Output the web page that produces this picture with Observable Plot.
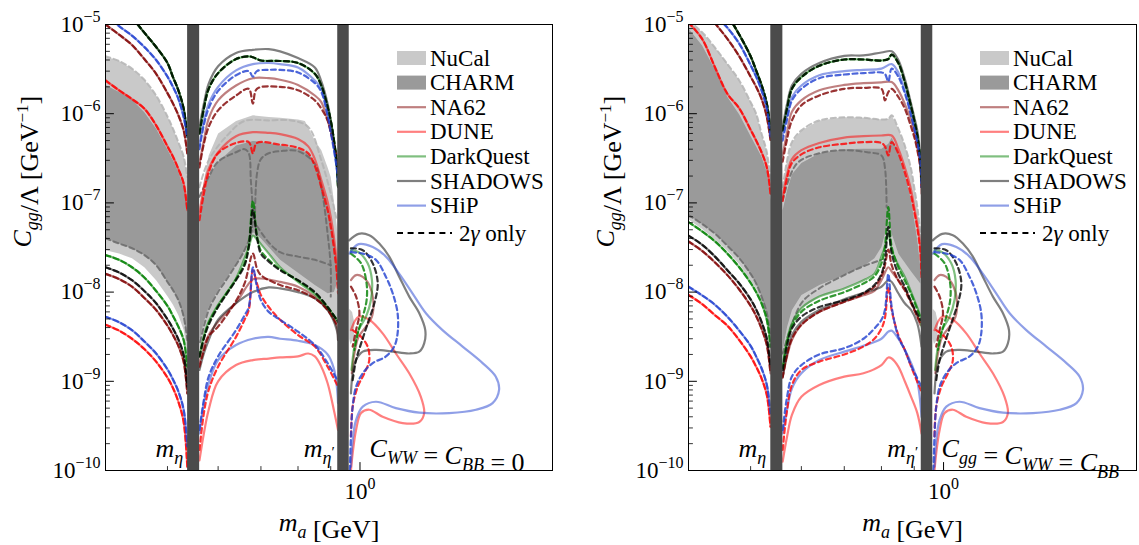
<!DOCTYPE html>
<html><head><meta charset="utf-8">
<script src="https://cdn.jsdelivr.net/npm/d3@7"></script>
<script src="https://cdn.jsdelivr.net/npm/@observablehq/plot@0.6"></script>
<style>
html,body{margin:0;padding:0;background:#fff;}
#fig{position:relative;width:1139px;height:545px;overflow:hidden;font-family:"Liberation Serif",serif;}
#fig > div{position:absolute;top:0;}
#fig svg{display:block;}
</style></head><body><div id="fig"></div>
<script>
// ---------------- axis / band definitions ----------------
const yMajor = [1e-10, 1e-9, 1e-8, 1e-7, 1e-6, 1e-5];
const yMinorK = [2, 3, 4, 5, 6, 7, 8, 9];
const xMinor = [0.4, 0.5, 0.6, 0.7, 0.8, 0.9, 2.0];
const xMajor = [1];
const mesonBand = [[0.5376, 0.5614], [0.923, 0.962]];   // m_eta and m_eta' bands (GeV)

// ---------------- region I (m_a < m_eta), common mass grid ----------------
const mI = [0.40, 0.42, 0.44, 0.46, 0.48, 0.50, 0.51, 0.52, 0.53, 0.537];

// left panel (C_WW = C_BB = 0)
const L1_nucalUp = [4.4e-6, 3.9e-6, 3.2e-6, 2.4e-6, 1.6e-6, 9.3e-7, 6.8e-7, 4.8e-7, 3.3e-7, 1.95e-7];
const L1_nucalLo = [2.95e-8, 2.7e-8, 2.4e-8, 1.9e-8, 1.36e-8, 9.0e-9, 7.2e-9, 5.5e-9, 3.75e-9, 2.05e-9];
const L1_charmUp = [2.1e-6, 1.75e-6, 1.43e-6, 1.04e-6, 6.8e-7, 3.95e-7, 3.0e-7, 2.2e-7, 1.5e-7, 9.0e-8];
const L1_charmLo = [4.0e-8, 3.5e-8, 3.1e-8, 2.6e-8, 2.0e-8, 1.3e-8, 1.05e-8, 8.1e-9, 5.3e-9, 2.9e-9];
const L1_na62Up = [1.0e-5, 7.7e-6, 5.9e-6, 4.1e-6, 2.8e-6, 1.7e-6, 1.3e-6, 9.6e-7, 6.5e-7, 3.6e-7];
const L1_na62Lo = [1.6e-8, 1.4e-8, 1.15e-8, 8.6e-9, 6.3e-9, 4.2e-9, 3.3e-9, 2.5e-9, 1.66e-9, 7.3e-10];
const L1_duneUp = [2.36e-6, 1.83e-6, 1.46e-6, 1.14e-6, 7.4e-7, 4.3e-7, 3.3e-7, 2.4e-7, 1.65e-7, 8.3e-8];
const L1_duneLo = [4.3e-9, 3.7e-9, 3.0e-9, 2.3e-9, 1.66e-9, 1.1e-9, 8.4e-10, 5.9e-10, 3.5e-10, 1.1e-10];
const L1_dqUp = [2.8e-5, 1.8e-5, 1.2e-5, 8.1e-6, 5.6e-6, 3.7e-6, 2.57e-6, 1.83e-6, 1.14e-6, 5.5e-7];
const L1_dqLo = [2.6e-8, 2.3e-8, 1.9e-8, 1.46e-8, 1.03e-8, 7.0e-9, 5.4e-9, 4.1e-9, 2.9e-9, 1.46e-9];
const L1_shadLo = [1.9e-8, 1.66e-8, 1.36e-8, 1.03e-8, 7.5e-9, 4.95e-9, 3.9e-9, 2.95e-9, 1.97e-9, 8.7e-10];
const L1_shipUp = [1.3e-5, 9.6e-6, 7.5e-6, 5.6e-6, 4.0e-6, 2.6e-6, 2.0e-6, 1.47e-6, 9.2e-7, 5.5e-7];
const L1_shipLo = [5.3e-9, 4.6e-9, 3.75e-9, 2.8e-9, 2.05e-9, 1.36e-9, 1.05e-9, 7.7e-10, 4.8e-10, 1.86e-10];

// right panel (C_gg = C_WW = C_BB)
const R1_nucalUp = [1.1e-5, 8.2e-6, 5.5e-6, 3.6e-6, 2.36e-6, 1.35e-6, 1.0e-6, 6.0e-7, 3.7e-7, 1.8e-7];
const R1_nucalLo = [6.5e-8, 5.1e-8, 3.9e-8, 2.9e-8, 2.05e-8, 1.35e-8, 1.08e-8, 8.0e-9, 5.2e-9, 2.6e-9];
const R1_charmUp = [9.0e-6, 5.8e-6, 3.1e-6, 1.54e-6, 9.8e-7, 5.6e-7, 4.3e-7, 3.3e-7, 2.2e-7, 1.07e-7];
const R1_charmLo = [7.3e-8, 5.8e-8, 4.5e-8, 3.3e-8, 2.4e-8, 1.6e-8, 1.25e-8, 8.9e-9, 5.8e-9, 3.2e-9];
const R1_na62Up = [2.5e-5, 1.56e-5, 1.03e-5, 6.9e-6, 4.4e-6, 2.6e-6, 2.0e-6, 1.47e-6, 9.2e-7, 5.1e-7];
const R1_na62Lo = [3.7e-8, 2.9e-8, 2.15e-8, 1.55e-8, 1.07e-8, 7.0e-9, 5.4e-9, 3.9e-9, 2.55e-9, 1.23e-9];
const R1_duneUp = [1.05e-5, 6.9e-6, 3.3e-6, 1.67e-6, 1.15e-6, 6.6e-7, 5.0e-7, 3.7e-7, 2.5e-7, 1.27e-7];
const R1_duneLo = [9.3e-9, 7.35e-9, 5.5e-9, 4.2e-9, 2.9e-9, 1.9e-9, 1.46e-9, 1.08e-9, 7.0e-10, 3.1e-10];
const R1_dqUp = [5.0e-5, 3.0e-5, 1.9e-5, 1.27e-5, 7.7e-6, 4.4e-6, 3.06e-6, 2.1e-6, 1.29e-6, 6.5e-7];
const R1_dqLo = [6.1e-8, 4.8e-8, 3.7e-8, 2.7e-8, 1.9e-8, 1.27e-8, 1.0e-8, 7.5e-9, 4.9e-9, 2.45e-9];
const R1_shadLo = [4.3e-8, 3.4e-8, 2.5e-8, 1.76e-8, 1.25e-8, 8.3e-9, 6.4e-9, 4.65e-9, 3.0e-9, 1.46e-9];
const R1_shipUp = [3.5e-5, 2.2e-5, 1.3e-5, 9.2e-6, 6.1e-6, 3.5e-6, 2.6e-6, 1.83e-6, 1.14e-6, 5.5e-7];
const R1_shipLo = [1.15e-8, 9.2e-9, 7.2e-9, 5.3e-9, 3.7e-9, 2.5e-9, 1.9e-9, 1.4e-9, 9.1e-10, 4.4e-10];

// ---------------- region II (m_eta < m_a < m_eta'), [m, C] pairs ----------------
// left panel
const L2_nucalUp = [[0.561,9.0e-8],[0.57,1.8e-7],[0.58,3.4e-7],[0.60,6.0e-7],[0.64,8.3e-7],[0.68,9.6e-7],[0.72,9.2e-7],[0.75,9.0e-7],[0.80,8.6e-7],[0.82,8.3e-7],[0.85,5.0e-7],[0.87,3.9e-7],[0.89,2.5e-7],[0.90,1.95e-7],[0.91,1.07e-7],[0.92,5.4e-8],[0.924,2.7e-8]];
const L2_nucalD = [[0.561,1.5e-7],[0.58,3.0e-7],[0.62,5.7e-7],[0.66,8.3e-7],[0.72,8.4e-7],[0.78,8.4e-7],[0.83,7.1e-7],[0.87,3.0e-7],[0.90,1.27e-7],[0.92,6.4e-8]];
const L2_charmUp = [[0.561,6.5e-8],[0.57,1.27e-7],[0.58,1.95e-7],[0.60,2.9e-7],[0.64,4.4e-7],[0.68,4.95e-7],[0.72,4.7e-7],[0.75,4.4e-7],[0.80,4.05e-7],[0.83,3.6e-7],[0.85,2.75e-7],[0.87,1.8e-7],[0.89,9.4e-8],[0.90,6.4e-8],[0.91,4.2e-8],[0.92,2.3e-8]];
const L2_charmLo = [[0.561,2.9e-9],[0.57,4.65e-9],[0.58,6.8e-9],[0.60,1.05e-8],[0.62,1.48e-8],[0.64,2.0e-8],[0.66,2.95e-8],[0.67,3.7e-8],[0.68,4.7e-8],[0.69,4.4e-8],[0.70,4.0e-8],[0.72,3.2e-8],[0.75,2.3e-8],[0.80,1.65e-8],[0.85,1.2e-8],[0.89,9.7e-9],[0.91,1.0e-8],[0.92,1.25e-8]];
const L2_charmD1 = [[0.561,1.17e-7],[0.58,1.95e-7],[0.60,2.9e-7],[0.64,3.7e-7],[0.66,4.0e-7],[0.67,3.6e-7],[0.675,1.8e-7],[0.68,6.4e-8],[0.675,4.5e-8],[0.66,2.95e-8],[0.62,1.42e-8],[0.60,1.0e-8],[0.58,6.3e-9],[0.561,2.55e-9]];
const L2_charmD2 = [[0.685,6.4e-8],[0.69,2.1e-7],[0.70,3.1e-7],[0.72,3.6e-7],[0.75,3.8e-7],[0.80,3.8e-7],[0.85,2.75e-7],[0.87,1.5e-7],[0.89,4.5e-8],[0.90,1.9e-8],[0.90,8.9e-9]];
const L2_charmD3 = [[0.69,5.5e-8],[0.72,3.6e-8],[0.75,2.8e-8],[0.80,2.5e-8],[0.85,2.3e-8],[0.90,2.0e-8]];
const L2_shadUp = [[0.561,7.1e-7],[0.57,1.29e-6],[0.58,2.17e-6],[0.60,3.4e-6],[0.64,4.8e-6],[0.68,5.2e-6],[0.72,5.3e-6],[0.75,5.0e-6],[0.80,4.2e-6],[0.85,3.3e-6],[0.87,2.3e-6],[0.89,1.29e-6],[0.90,8.4e-7],[0.91,5.0e-7],[0.92,2.5e-7],[0.924,1.5e-7]];
const L2_dqUp = [[0.561,6.0e-7],[0.57,1.14e-6],[0.58,1.9e-6],[0.60,2.85e-6],[0.64,4.1e-6],[0.67,4.4e-6],[0.68,4.3e-6],[0.70,3.95e-6],[0.75,3.9e-6],[0.80,3.7e-6],[0.85,2.8e-6],[0.87,2.07e-6],[0.89,1.19e-6],[0.90,8.4e-7],[0.91,5.2e-7],[0.92,2.75e-7],[0.924,1.5e-7]];
const L2_shipUp = [[0.561,4.4e-7],[0.57,8.4e-7],[0.58,1.29e-6],[0.60,2.0e-6],[0.64,3.06e-6],[0.68,3.6e-6],[0.72,3.7e-6],[0.75,3.6e-6],[0.80,3.3e-6],[0.85,2.36e-6],[0.87,1.9e-6],[0.89,1.0e-6],[0.90,6.5e-7],[0.91,4.2e-7],[0.92,2.5e-7],[0.924,1.8e-7]];
const L2_shipUpD = [[0.561,4.0e-7],[0.57,7.5e-7],[0.58,1.15e-6],[0.60,1.8e-6],[0.64,2.7e-6],[0.67,3.0e-6],[0.68,2.6e-6],[0.69,3.0e-6],[0.72,3.1e-6],[0.75,3.1e-6],[0.80,2.9e-6],[0.85,2.2e-6],[0.87,1.75e-6],[0.89,9.5e-7],[0.90,6.2e-7],[0.91,4.0e-7],[0.92,2.4e-7],[0.924,1.7e-7]];
const L2_na62Up = [[0.561,2.75e-7],[0.57,5.0e-7],[0.58,8.8e-7],[0.60,1.41e-6],[0.64,2.07e-6],[0.68,2.5e-6],[0.72,2.5e-6],[0.75,2.4e-6],[0.80,2.1e-6],[0.85,1.6e-6],[0.87,1.35e-6],[0.89,8.4e-7],[0.90,6.5e-7],[0.91,4.6e-7],[0.92,2.75e-7],[0.924,1.95e-7]];
const L2_na62UpD = [[0.561,2.5e-7],[0.57,4.6e-7],[0.58,7.1e-7],[0.60,1.09e-6],[0.64,1.6e-6],[0.67,1.9e-6],[0.68,1.3e-6],[0.69,1.9e-6],[0.75,2.0e-6],[0.80,1.83e-6],[0.85,1.41e-6],[0.87,1.14e-6],[0.89,8.4e-7],[0.90,6.2e-7],[0.92,3.3e-7],[0.924,2.3e-7]];
const L2_duneUp = [[0.561,7.6e-8],[0.57,1.5e-7],[0.58,2.4e-7],[0.60,3.7e-7],[0.64,5.6e-7],[0.68,6.2e-7],[0.72,6.1e-7],[0.75,5.9e-7],[0.80,5.2e-7],[0.83,4.3e-7],[0.85,3.1e-7],[0.87,1.8e-7],[0.89,1.03e-7],[0.90,7.0e-8],[0.91,4.2e-8],[0.92,2.1e-8],[0.924,1.15e-8]];
const L2_duneUpD = [[0.561,6.4e-8],[0.57,1.27e-7],[0.58,2.2e-7],[0.60,3.6e-7],[0.64,4.7e-7],[0.67,4.8e-7],[0.68,3.6e-7],[0.69,4.7e-7],[0.75,4.5e-7],[0.80,4.15e-7],[0.83,3.6e-7],[0.85,2.6e-7],[0.87,1.5e-7],[0.89,8.3e-8],[0.90,5.4e-8],[0.91,3.2e-8],[0.92,1.6e-8],[0.924,9.7e-9]];
const L2_dqLo = [[0.561,1.9e-9],[0.57,3.2e-9],[0.58,4.65e-9],[0.60,7.2e-9],[0.62,1.0e-8],[0.64,1.42e-8],[0.66,2.4e-8],[0.67,3.2e-8],[0.68,4.3e-8],[0.69,3.9e-8],[0.70,3.45e-8],[0.72,2.7e-8],[0.75,1.9e-8],[0.80,1.3e-8],[0.85,9.4e-9],[0.89,6.7e-9],[0.924,4.65e-9]];
const L2_dqLoD = [[0.561,1.9e-9],[0.57,3.1e-9],[0.58,4.5e-9],[0.60,7.0e-9],[0.62,1.0e-8],[0.64,1.4e-8],[0.66,2.1e-8],[0.67,3.4e-8],[0.68,1.05e-7],[0.69,4.3e-8],[0.70,2.9e-8],[0.72,2.3e-8],[0.75,1.8e-8],[0.80,1.35e-8],[0.85,9.8e-9],[0.89,6.8e-9],[0.924,4.7e-9]];
const L2_shadLo = [[0.561,1.34e-9],[0.57,2.05e-9],[0.58,2.9e-9],[0.60,4.9e-9],[0.64,7.5e-9],[0.68,1.0e-8],[0.72,1.13e-8],[0.75,1.1e-8],[0.80,1.0e-8],[0.85,8.5e-9],[0.89,6.3e-9],[0.92,3.75e-9],[0.924,2.9e-9]];
const L2_shadLoD = [[0.561,1.9e-9],[0.57,3.0e-9],[0.58,4.3e-9],[0.60,6.8e-9],[0.62,9.7e-9],[0.64,1.36e-8],[0.66,2.0e-8],[0.67,3.2e-8],[0.68,8.3e-8],[0.69,4.15e-8],[0.70,2.7e-8],[0.72,2.2e-8],[0.75,1.76e-8],[0.80,1.36e-8],[0.85,1.0e-8],[0.89,6.8e-9],[0.924,4.65e-9]];
const L2_na62Lo = [[0.561,1.6e-9],[0.57,2.45e-9],[0.58,3.3e-9],[0.60,4.65e-9],[0.64,7.6e-9],[0.68,1.39e-8],[0.70,1.42e-8],[0.75,1.3e-8],[0.80,1.15e-8],[0.85,8.9e-9],[0.89,6.4e-9],[0.92,4.1e-9],[0.924,2.9e-9]];
const L2_na62LoD = [[0.561,1.46e-9],[0.57,2.2e-9],[0.58,3.2e-9],[0.60,4.1e-9],[0.64,8.0e-9],[0.66,1.25e-8],[0.68,2.7e-8],[0.69,1.84e-8],[0.70,1.55e-8],[0.75,1.2e-8],[0.80,1.05e-8],[0.85,8.5e-9],[0.89,6.3e-9],[0.92,4.3e-9]];
const L2_shipLo = [[0.561,2.6e-10],[0.57,5.7e-10],[0.58,9.5e-10],[0.60,1.73e-9],[0.64,2.55e-9],[0.68,3.0e-9],[0.72,3.15e-9],[0.75,3.0e-9],[0.80,2.85e-9],[0.85,2.55e-9],[0.89,2.0e-9],[0.91,1.4e-9],[0.92,8.7e-10],[0.924,5.7e-10]];
const L2_shipLoD = [[0.561,2.85e-10],[0.57,6.2e-10],[0.58,1.13e-9],[0.60,1.9e-9],[0.64,3.75e-9],[0.66,5.5e-9],[0.67,6.8e-9],[0.68,1.9e-8],[0.69,1.15e-8],[0.70,8.1e-9],[0.72,6.0e-9],[0.75,4.9e-9],[0.80,3.6e-9],[0.85,2.55e-9],[0.89,1.6e-9],[0.924,1.0e-9]];
const L2_duneLo = [[0.561,1.3e-10],[0.57,2.6e-10],[0.58,4.8e-10],[0.60,1.0e-9],[0.64,1.52e-9],[0.68,1.73e-9],[0.72,1.8e-9],[0.75,1.85e-9],[0.80,1.9e-9],[0.83,2.05e-9],[0.85,1.9e-9],[0.87,1.46e-9],[0.89,9.5e-10],[0.91,4.8e-10],[0.924,2.85e-10]];
const L2_duneLoD = [[0.561,1.7e-10],[0.57,4.4e-10],[0.58,8.0e-10],[0.60,1.46e-9],[0.64,3.15e-9],[0.66,4.9e-9],[0.67,6.3e-9],[0.68,1.76e-8],[0.69,1.25e-8],[0.70,9.25e-9],[0.72,6.8e-9],[0.75,4.9e-9],[0.80,3.3e-9],[0.85,2.45e-9],[0.89,1.46e-9],[0.924,8.7e-10]];

// right panel
const R2_nucalUp = [[0.561,1.5e-7],[0.57,3.0e-7],[0.58,4.8e-7],[0.60,6.5e-7],[0.64,8.4e-7],[0.70,9.1e-7],[0.75,9.0e-7],[0.80,8.6e-7],[0.82,8.8e-7],[0.83,9.6e-7],[0.85,6.8e-7],[0.87,4.4e-7],[0.89,2.4e-7],[0.90,1.5e-7],[0.91,9.0e-8],[0.92,4.5e-8],[0.924,2.3e-8]];
const R2_charmUp = [[0.561,8.3e-8],[0.57,1.39e-7],[0.58,2.1e-7],[0.60,2.8e-7],[0.64,3.6e-7],[0.70,4.0e-7],[0.75,4.05e-7],[0.80,4.05e-7],[0.82,4.6e-7],[0.83,5.4e-7],[0.85,3.7e-7],[0.87,2.1e-7],[0.89,1.07e-7],[0.90,6.4e-8],[0.91,3.8e-8],[0.92,1.9e-8]];
const R2_charmLo = [[0.561,2.25e-9],[0.57,4.1e-9],[0.58,6.3e-9],[0.60,9.25e-9],[0.64,1.2e-8],[0.70,1.55e-8],[0.75,1.95e-8],[0.78,2.4e-8],[0.80,3.2e-8],[0.81,4.5e-8],[0.82,6.7e-8],[0.83,4.5e-8],[0.85,2.7e-8],[0.89,1.7e-8],[0.92,1.25e-8]];
const R2_charmD1 = [[0.561,1.07e-7],[0.59,2.75e-7],[0.64,3.6e-7],[0.70,3.9e-7],[0.76,3.7e-7],[0.80,3.4e-7],[0.81,2.5e-7],[0.815,9.0e-8]];
const R2_charmD2 = [[0.561,2.05e-9],[0.60,7.5e-9],[0.64,1.1e-8],[0.70,1.55e-8],[0.75,1.95e-8],[0.80,2.3e-8]];
const R2_shadUp = [[0.561,7.1e-7],[0.57,1.29e-6],[0.58,2.07e-6],[0.60,2.8e-6],[0.64,3.7e-6],[0.70,4.45e-6],[0.75,4.5e-6],[0.80,4.85e-6],[0.83,5.0e-6],[0.85,4.0e-6],[0.87,2.46e-6],[0.89,1.29e-6],[0.90,9.2e-7],[0.91,6.5e-7],[0.92,3.3e-7],[0.924,1.8e-7]];
const R2_dqUp = [[0.561,6.5e-7],[0.57,1.14e-6],[0.58,1.9e-6],[0.60,2.57e-6],[0.64,3.45e-6],[0.70,4.05e-6],[0.75,4.05e-6],[0.80,3.95e-6],[0.82,4.1e-6],[0.83,4.6e-6],[0.85,3.7e-6],[0.87,2.26e-6],[0.89,1.19e-6],[0.90,8.4e-7],[0.91,5.7e-7],[0.92,3.0e-7],[0.924,1.65e-7]];
const R2_shipUp = [[0.561,5.7e-7],[0.57,9.6e-7],[0.58,1.54e-6],[0.60,2.07e-6],[0.64,2.7e-6],[0.70,3.0e-6],[0.75,3.1e-6],[0.80,3.2e-6],[0.83,3.6e-6],[0.85,2.9e-6],[0.87,1.83e-6],[0.89,1.0e-6],[0.90,7.1e-7],[0.91,5.0e-7],[0.92,3.0e-7],[0.924,1.5e-7]];
const R2_shipUpD = [[0.561,5.0e-7],[0.57,8.6e-7],[0.58,1.4e-6],[0.60,1.9e-6],[0.64,2.5e-6],[0.70,2.75e-6],[0.75,2.85e-6],[0.80,2.9e-6],[0.81,2.8e-6],[0.82,2.3e-6],[0.83,3.2e-6],[0.85,2.6e-6],[0.87,1.7e-6],[0.89,9.5e-7],[0.90,6.8e-7],[0.91,4.8e-7],[0.92,2.9e-7],[0.924,1.5e-7]];
const R2_na62Up = [[0.561,3.4e-7],[0.57,6.2e-7],[0.58,1.05e-6],[0.60,1.41e-6],[0.64,1.83e-6],[0.70,2.1e-6],[0.75,2.2e-6],[0.80,2.25e-6],[0.83,2.26e-6],[0.85,1.83e-6],[0.87,1.29e-6],[0.89,8.4e-7],[0.90,6.2e-7],[0.91,4.2e-7],[0.92,2.5e-7],[0.924,1.27e-7]];
const R2_na62UpD = [[0.561,2.9e-7],[0.57,5.2e-7],[0.58,8.4e-7],[0.60,1.24e-6],[0.64,1.6e-6],[0.70,1.9e-6],[0.75,1.95e-6],[0.80,1.9e-6],[0.81,1.41e-6],[0.82,1.75e-6],[0.83,1.9e-6],[0.85,1.54e-6],[0.87,1.14e-6],[0.89,7.1e-7],[0.90,5.5e-7],[0.91,3.9e-7],[0.92,2.5e-7],[0.924,1.5e-7]];
const R2_duneUp = [[0.561,1.17e-7],[0.57,2.1e-7],[0.58,3.1e-7],[0.60,3.9e-7],[0.64,4.7e-7],[0.70,5.4e-7],[0.75,5.6e-7],[0.80,5.7e-7],[0.83,5.7e-7],[0.85,4.05e-7],[0.87,2.5e-7],[0.89,1.39e-7],[0.90,9.0e-8],[0.91,5.9e-8],[0.92,3.2e-8],[0.924,1.6e-8]];
const R2_duneUpD = [[0.561,1.05e-7],[0.57,1.9e-7],[0.58,2.8e-7],[0.60,3.5e-7],[0.64,4.2e-7],[0.70,4.6e-7],[0.75,4.8e-7],[0.80,4.7e-7],[0.81,4.3e-7],[0.82,3.4e-7],[0.83,4.8e-7],[0.85,3.6e-7],[0.87,2.2e-7],[0.89,1.2e-7],[0.90,8.0e-8],[0.91,5.2e-8],[0.92,2.8e-8],[0.924,1.4e-8]];
const R2_dqLo = [[0.561,1.46e-9],[0.57,2.9e-9],[0.58,4.45e-9],[0.60,6.6e-9],[0.64,8.9e-9],[0.70,1.1e-8],[0.75,1.36e-8],[0.78,1.6e-8],[0.80,2.5e-8],[0.81,3.2e-8],[0.82,4.5e-8],[0.83,2.95e-8],[0.85,2.0e-8],[0.87,1.48e-8],[0.89,1.0e-8],[0.92,5.3e-9],[0.924,4.1e-9]];
const R2_dqLoD = [[0.561,1.4e-9],[0.57,2.7e-9],[0.58,4.1e-9],[0.60,6.0e-9],[0.64,8.0e-9],[0.70,1.0e-8],[0.75,1.25e-8],[0.78,1.5e-8],[0.80,2.1e-8],[0.81,3.2e-8],[0.82,9.0e-8],[0.83,3.2e-8],[0.85,1.9e-8],[0.87,1.35e-8],[0.89,9.5e-9],[0.92,5.2e-9]];
const R2_shadLo = [[0.561,1.13e-9],[0.57,2.05e-9],[0.58,3.3e-9],[0.60,4.65e-9],[0.64,6.3e-9],[0.70,8.3e-9],[0.75,9.8e-9],[0.80,1.15e-8],[0.82,1.36e-8],[0.83,1.3e-8],[0.85,9.7e-9],[0.87,7.5e-9],[0.89,6.3e-9],[0.91,4.45e-9],[0.924,2.45e-9]];
const R2_shadLoD = [[0.561,1.34e-9],[0.57,2.55e-9],[0.58,3.9e-9],[0.60,5.3e-9],[0.64,6.8e-9],[0.70,8.1e-9],[0.75,9.8e-9],[0.78,1.2e-8],[0.80,1.6e-8],[0.81,2.3e-8],[0.82,5.4e-8],[0.83,2.7e-8],[0.85,1.6e-8],[0.87,1.15e-8],[0.89,7.8e-9],[0.92,4.9e-9]];
const R2_na62Lo = [[0.561,1.13e-9],[0.57,1.9e-9],[0.58,2.9e-9],[0.60,4.3e-9],[0.64,6.0e-9],[0.70,7.8e-9],[0.75,9.2e-9],[0.78,1.03e-8],[0.80,1.36e-8],[0.82,1.9e-8],[0.83,1.7e-8],[0.85,1.36e-8],[0.87,1.1e-8],[0.89,7.8e-9],[0.92,4.3e-9]];
const R2_na62LoD = [[0.561,1.1e-9],[0.57,2.0e-9],[0.58,3.0e-9],[0.60,4.3e-9],[0.64,6.0e-9],[0.70,7.8e-9],[0.75,9.5e-9],[0.78,1.15e-8],[0.80,1.5e-8],[0.81,2.0e-8],[0.82,3.0e-8],[0.83,2.0e-8],[0.85,1.35e-8],[0.87,1.05e-8],[0.89,7.5e-9],[0.92,4.5e-9]];
const R2_shipLo = [[0.561,2.6e-10],[0.57,4.8e-10],[0.58,8.3e-10],[0.60,1.23e-9],[0.64,1.73e-9],[0.70,2.15e-9],[0.75,2.5e-9],[0.80,3.0e-9],[0.82,3.6e-9],[0.83,3.7e-9],[0.85,3.0e-9],[0.87,2.25e-9],[0.89,1.6e-9],[0.91,1.0e-9],[0.924,4.0e-10]];
const R2_shipLoD = [[0.561,2.85e-10],[0.57,6.7e-10],[0.58,1.13e-9],[0.60,1.52e-9],[0.64,2.0e-9],[0.70,2.35e-9],[0.75,3.0e-9],[0.78,3.9e-9],[0.80,4.9e-9],[0.81,6.3e-9],[0.82,1.6e-8],[0.83,6.8e-9],[0.85,3.15e-9],[0.87,2.25e-9],[0.89,1.5e-9],[0.924,8.7e-10]];
const R2_duneLo = [[0.561,1.26e-10],[0.57,2.4e-10],[0.58,4.2e-10],[0.60,6.7e-10],[0.64,9.1e-10],[0.70,1.13e-9],[0.75,1.23e-9],[0.80,1.52e-9],[0.82,1.85e-9],[0.83,1.8e-9],[0.85,1.46e-9],[0.87,1.0e-9],[0.89,6.7e-10],[0.91,4.4e-10],[0.924,2.6e-10]];
const R2_duneLoD = [[0.561,1.7e-10],[0.57,4.8e-10],[0.58,9.1e-10],[0.60,1.34e-9],[0.64,1.66e-9],[0.70,2.0e-9],[0.75,2.45e-9],[0.78,3.0e-9],[0.80,3.9e-9],[0.81,5.1e-9],[0.82,1.15e-8],[0.83,6.3e-9],[0.85,3.3e-9],[0.87,2.25e-9],[0.89,1.46e-9],[0.924,7.6e-10]];

// ---------------- region III (m_a > m_eta'), same in both panels ----------------
const III_nucalBlob = [[0.962,6.5e-9],[0.972,6.0e-9],[0.98,4.5e-9],[0.978,3.0e-9],[0.966,2.6e-9],[0.962,3.0e-9]];
const III_shadLoop = [[0.962,3.8e-8],[0.995,4.5e-8],[1.034,4.35e-8],[1.072,3.5e-8],[1.111,2.5e-8],[1.152,1.48e-8],[1.194,8.9e-9],[1.238,5.8e-9],[1.265,3.75e-9],[1.26,2.66e-9],[1.238,2.15e-9],[1.194,2.05e-9],[1.125,2.15e-9],[1.059,2.25e-9],[1.010,2.15e-9],[0.986,1.73e-9],[0.974,1.23e-9],[0.968,7.3e-10]];
const III_shadD = [[0.968,3.1e-8],[1.010,2.95e-8],[1.047,2.1e-8],[1.066,1.25e-8],[1.053,7.5e-9],[1.028,4.45e-9],[1.004,2.66e-9],[0.986,1.73e-9],[0.974,1.03e-9]];
const III_shipLoop = [[0.962,2.7e-8],[0.995,3.45e-8],[1.047,3.2e-8],[1.098,2.5e-8],[1.152,1.6e-8],[1.208,9.7e-9],[1.268,5.8e-9],[1.346,3.75e-9],[1.447,2.45e-9],[1.555,1.6e-9],[1.630,1.13e-9],[1.650,8.0e-10],[1.612,5.7e-10],[1.518,4.8e-10],[1.379,4.4e-10],[1.238,4.45e-10],[1.138,5.0e-10],[1.059,5.9e-10],[1.010,5.2e-10],[0.986,3.7e-10],[0.974,2.2e-10],[0.968,1.1e-10]];
const III_shipD = [[0.968,2.8e-8],[1.010,2.7e-8],[1.059,2.3e-8],[1.098,1.48e-8],[1.125,9.7e-9],[1.145,5.8e-9],[1.145,3.45e-9],[1.131,2.45e-9],[1.098,1.9e-9],[1.047,1.6e-9],[1.010,1.23e-9],[0.986,8.7e-10],[0.974,5.2e-10],[0.968,2.4e-10],[0.964,1.0e-10]];
const III_dq = [[0.968,2.95e-8],[0.995,2.8e-8],[1.028,2.1e-8],[1.044,1.36e-8],[1.040,8.1e-9],[1.022,5.3e-9],[0.995,3.75e-9],[0.980,2.45e-9],[0.970,1.34e-9]];
const III_dqD = [[0.968,2.7e-8],[1.004,2.1e-8],[1.024,1.25e-8],[1.024,8.1e-9],[1.010,5.3e-9],[0.992,3.45e-9],[0.980,2.25e-9]];
const III_na62 = [[0.968,1.36e-8],[0.986,1.55e-8],[1.010,1.48e-8],[1.034,1.2e-8],[1.049,8.1e-9],[1.044,5.3e-9],[1.022,4.1e-9],[0.995,3.15e-9],[0.980,2.05e-9],[0.971,1.23e-9]];
const III_na62D = [[0.968,1.15e-8],[0.986,8.9e-9],[0.998,5.8e-9],[0.986,3.75e-9],[0.974,2.45e-9]];
const III_dune = [[0.968,3.75e-9],[0.995,5.3e-9],[1.034,4.9e-9],[1.085,3.45e-9],[1.138,2.05e-9],[1.194,1.23e-9],[1.245,6.7e-10],[1.260,4.4e-10],[1.238,3.5e-10],[1.166,3.4e-10],[1.085,4.0e-10],[1.034,4.8e-10],[1.004,4.4e-10],[0.986,2.85e-10],[0.974,1.56e-10],[0.968,1.0e-10]];
const III_duneD = [[0.974,3.75e-9],[1.004,3.15e-9],[1.028,2.45e-9],[1.034,1.73e-9],[1.016,1.23e-9],[0.992,8.7e-10],[0.974,5.2e-10],[0.968,2.4e-10]];

// ---------------- legend & annotations ----------------
const legendRows = [["NuCal","rect"],["CHARM","rect"],["NA62","line"],["DUNE","line"],["DarkQuest","line"],["SHADOWS","line"],["SHiP","line"]];
const noteLeft = [[0.529,1.75e-10,"meta","end"],[0.913,1.75e-10,"metap","end"],[1.035,1.75e-10,"noteL","start"]];
const noteRight = [[0.529,1.75e-10,"meta","end"],[0.913,1.75e-10,"metap","end"],[0.993,1.75e-10,"noteR","start"]];

// ---------------- styles ----------------
const FONT = "Liberation Serif";
const expColor = {NA62:"#800000", DUNE:"#ff0000", DarkQuest:"#008000", SHADOWS:"#000000", SHiP:"#1f3fcf"};
const fillColor = {NuCal:"#c9c9c9", CHARM:"#9a9a9a"};
const SOLID_OP = 0.5, DASH_OP = 0.8;

// ---------------- helpers ----------------
const zip = (ms, cs) => ms.map((m, i) => [m, cs[i]]);
const poly = (up, lo) => up.concat(lo.slice().reverse());
const pair = (exp, s, d) => [[exp, "s", s], [exp, "d", d || s]];

const region3 = [
  ...pair("NA62", III_na62, III_na62D), ...pair("DUNE", III_dune, III_duneD),
  ...pair("DarkQuest", III_dq, III_dqD), ...pair("SHADOWS", III_shadLoop, III_shadD),
  ...pair("SHiP", III_shipLoop, III_shipD)
];

const leftCfg = {
  left: 0, width: 570, marginLeft: 105, marginRight: 18, notes: noteLeft,
  fills: [
    ["NuCal", poly(zip(mI, L1_nucalUp), zip(mI, L1_nucalLo))],
    ["NuCal", poly(L2_nucalUp, L2_dqLo)],
    ["NuCal", III_nucalBlob],
    ["CHARM", poly(zip(mI, L1_charmUp), zip(mI, L1_charmLo))],
    ["CHARM", poly(L2_charmUp, L2_charmLo)]
  ],
  grays: [
    ["NuCal", zip(mI, L1_nucalUp)], ["NuCal", L2_nucalD],
    ["CHARM", zip(mI, L1_charmLo)], ["CHARM", L2_charmD1], ["CHARM", L2_charmD2], ["CHARM", L2_charmD3]
  ],
  lines: [
    ...pair("NA62", zip(mI, L1_na62Up)), ...pair("NA62", zip(mI, L1_na62Lo)),
    ...pair("DUNE", zip(mI, L1_duneUp)), ...pair("DUNE", zip(mI, L1_duneLo)),
    ...pair("DarkQuest", zip(mI, L1_dqUp)), ...pair("DarkQuest", zip(mI, L1_dqLo)),
    ...pair("SHADOWS", zip(mI, L1_dqUp)), ...pair("SHADOWS", zip(mI, L1_shadLo)),
    ...pair("SHiP", zip(mI, L1_shipUp)), ...pair("SHiP", zip(mI, L1_shipLo)),
    ...pair("NA62", L2_na62Up, L2_na62UpD), ...pair("NA62", L2_na62Lo, L2_na62LoD),
    ...pair("DUNE", L2_duneUp, L2_duneUpD), ...pair("DUNE", L2_duneLo, L2_duneLoD),
    ...pair("DarkQuest", L2_dqUp), ...pair("DarkQuest", L2_dqLo, L2_dqLoD),
    ...pair("SHADOWS", L2_shadUp, L2_dqUp), ...pair("SHADOWS", L2_shadLo, L2_shadLoD),
    ...pair("SHiP", L2_shipUp, L2_shipUpD), ...pair("SHiP", L2_shipLo, L2_shipLoD),
    ...region3
  ]
};

const rightCfg = {
  left: 570, width: 569, marginLeft: 118, marginRight: 3, notes: noteRight,
  fills: [
    ["NuCal", poly(zip(mI, R1_nucalUp), zip(mI, R1_nucalLo))],
    ["NuCal", poly(R2_nucalUp, R2_dqLo)],
    ["NuCal", III_nucalBlob],
    ["CHARM", poly(zip(mI, R1_charmUp), zip(mI, R1_charmLo))],
    ["CHARM", poly(R2_charmUp, R2_charmLo)]
  ],
  grays: [
    ["NuCal", zip(mI, R1_nucalUp)], ["NuCal", R2_nucalUp],
    ["CHARM", zip(mI, R1_charmLo)], ["CHARM", R2_charmD1], ["CHARM", R2_charmD2]
  ],
  lines: [
    ...pair("NA62", zip(mI, R1_na62Up)), ...pair("NA62", zip(mI, R1_na62Lo)),
    ...pair("DUNE", zip(mI, R1_duneUp)), ...pair("DUNE", zip(mI, R1_duneLo)),
    ...pair("DarkQuest", zip(mI, R1_dqUp)), ...pair("DarkQuest", zip(mI, R1_dqLo)),
    ...pair("SHADOWS", zip(mI, R1_dqUp)), ...pair("SHADOWS", zip(mI, R1_shadLo)),
    ...pair("SHiP", zip(mI, R1_shipUp)), ...pair("SHiP", zip(mI, R1_shipLo)),
    ...pair("NA62", R2_na62Up, R2_na62UpD), ...pair("NA62", R2_na62Lo, R2_na62LoD),
    ...pair("DUNE", R2_duneUp, R2_duneUpD), ...pair("DUNE", R2_duneLo, R2_duneLoD),
    ...pair("DarkQuest", R2_dqUp), ...pair("DarkQuest", R2_dqLo, R2_dqLoD),
    ...pair("SHADOWS", R2_shadUp, R2_dqUp), ...pair("SHADOWS", R2_shadLo, R2_shadLoD),
    ...pair("SHiP", R2_shipUp, R2_shipUpD), ...pair("SHiP", R2_shipLo, R2_shipLoD),
    ...region3
  ]
};

// rich-text markup for labels (super/subscripts, italics)
const it = s => `<tspan font-style="italic">${s}</tspan>`;
const sub = (s, fs) => `<tspan dy="7" font-size="${fs}" font-style="italic">${s}</tspan><tspan dy="-7"></tspan>`;
function markup(key) {
  if (key.startsWith("pow:")) {
    const e = +key.slice(4);
    return `10<tspan dy="-10" font-size="16">${e < 0 ? "\u2212" + (-e) : e}</tspan>`;
  }
  switch (key) {
    case "ylab": return `${it("C")}${sub("gg", 18)}/Λ [GeV<tspan dy="-10" font-size="17">\u22121</tspan><tspan dy="10">]</tspan>`;
    case "xlab": return `${it("m")}${sub("a", 18)} [GeV]`;
    case "meta": return `${it("m")}${sub("η", 18)}`;
    case "metap": return `${it("m")}<tspan dy="7" font-size="18" font-style="italic">η</tspan><tspan font-size="15" dy="-7">′</tspan>`;
    case "noteL": return `${it("C")}${sub("WW", 18)} = ${it("C")}${sub("BB", 18)} = 0`;
    case "noteR": return `${it("C")}${sub("gg", 18)} = ${it("C")}${sub("WW", 18)} = ${it("C")}${sub("BB", 18)}`;
  }
  return key;
}
function richify(svg) {
  svg.querySelectorAll("text").forEach(t => {
    const s = t.textContent;
    if (s.startsWith("@")) t.innerHTML = markup(s.slice(1));
  });
}

const tickShape = {draw(ctx, l) { ctx.moveTo(0, 0); ctx.lineTo(0, -l); }};
const yMinor = yMajor.slice(0, -1).flatMap(p => yMinorK.map(k => k * p));

function makePanel(cfg) {
  const X = d => d[0], Y = d => d[1];
  const marks = [];
  for (const [name, pts] of cfg.fills)
    marks.push(Plot.line(pts, {x: X, y: Y, fill: fillColor[name], stroke: "none", clip: true}));
  for (const [name, pts] of cfg.grays)
    marks.push(Plot.line(pts, {x: X, y: Y, stroke: name === "NuCal" ? "#b3b3b3" : "#6a6a6a", strokeWidth: 2, strokeDasharray: "5,3.5", strokeOpacity: 0.85, clip: true, curve: "catmull-rom"}));
  for (const [exp, kind, pts] of cfg.lines.filter(l => l[1] === "s"))
    marks.push(Plot.line(pts, {x: X, y: Y, stroke: expColor[exp], strokeOpacity: SOLID_OP, strokeWidth: 2.2, clip: true, curve: "catmull-rom"}));
  for (const [exp, kind, pts] of cfg.lines.filter(l => l[1] === "d"))
    marks.push(Plot.line(pts, {x: X, y: Y, stroke: expColor[exp], strokeOpacity: DASH_OP, strokeWidth: 2.2, strokeDasharray: "5,3.5", clip: true, curve: "catmull-rom"}));
  marks.push(Plot.rect(mesonBand, {x1: d => d[0], x2: d => d[1], y1: () => 1e-10, y2: () => 1e-5, fill: "#4b4b4b"}));
  marks.push(Plot.frame({stroke: "black", strokeWidth: 1}));
  // inward ticks
  marks.push(Plot.vector(yMajor, {x: () => 0.4, y: d => d, length: 8, rotate: 90, anchor: "start", shape: tickShape, stroke: "black", strokeWidth: 1}));
  marks.push(Plot.vector(yMinor, {x: () => 0.4, y: d => d, length: 4, rotate: 90, anchor: "start", shape: tickShape, stroke: "black", strokeWidth: 0.8}));
  marks.push(Plot.vector(xMajor, {x: d => d, y: () => 1e-10, length: 8, rotate: 0, anchor: "start", shape: tickShape, stroke: "black", strokeWidth: 1}));
  marks.push(Plot.vector(xMinor, {x: d => d, y: () => 1e-10, length: 4, rotate: 0, anchor: "start", shape: tickShape, stroke: "black", strokeWidth: 0.8}));
  // tick labels
  marks.push(Plot.text(yMajor, {x: () => 0.4, y: d => d, text: d => "@pow:" + Math.round(Math.log10(d)), textAnchor: "end", dx: -5, fontSize: 23}));
  marks.push(Plot.text(xMajor, {x: d => d, y: () => 1e-10, text: () => "@pow:0", dy: 21, fontSize: 23}));
  // axis labels
  marks.push(Plot.text(["@ylab"], {frameAnchor: "left", text: d => d, rotate: -90, dx: -83, fontSize: 26}));
  marks.push(Plot.text(["@xlab"], {frameAnchor: "bottom", text: d => d, dy: 60, fontSize: 26}));
  // annotations
  for (const [m, c, key, anchor] of cfg.notes)
    marks.push(Plot.text([[m, c]], {x: X, y: Y, text: () => "@" + key, textAnchor: anchor, fontSize: 26}));

  const svg = Plot.plot({
    width: cfg.width, height: 545,
    marginTop: 24, marginBottom: 75, marginLeft: cfg.marginLeft, marginRight: cfg.marginRight,
    x: {type: "log", domain: [0.4, 2.0], axis: null},
    y: {type: "log", domain: [1e-10, 1e-5], axis: null},
    style: {fontFamily: FONT, background: "white", color: "black", overflow: "visible"},
    marks
  });
  richify(svg);
  const div = document.createElement("div");
  div.style.left = cfg.left + "px";
  div.appendChild(svg);
  return div;
}

const fig = document.getElementById("fig");
fig.appendChild(makePanel(leftCfg));
fig.appendChild(makePanel(rightCfg));

// legend overlay (one per panel)
const lg = d3.select(fig).append("svg")
  .attr("width", 1139).attr("height", 545)
  .style("position", "absolute").style("left", "0px").style("top", "0px")
  .style("font-family", FONT).style("font-size", "23px");
for (const ox of [397, 980]) {
  const g = lg.append("g").attr("transform", `translate(${ox},0)`);
  legendRows.forEach(([name, type], i) => {
    const cy = 58 + i * 24.6;
    if (type === "rect") g.append("rect").attr("x", 0).attr("y", cy - 7).attr("width", 29).attr("height", 14).attr("fill", fillColor[name]);
    else g.append("line").attr("x1", 0).attr("x2", 29).attr("y1", cy).attr("y2", cy).attr("stroke", expColor[name]).attr("stroke-opacity", SOLID_OP).attr("stroke-width", 2.2);
    g.append("text").attr("x", 33).attr("y", cy).attr("dominant-baseline", "central").text(name);
  });
  const cy = 233;
  g.append("line").attr("x1", 0).attr("x2", 55).attr("y1", cy).attr("y2", cy).attr("stroke", "black").attr("stroke-width", 2).attr("stroke-dasharray", "6,4.6");
  g.append("text").attr("x", 62).attr("y", cy).attr("dominant-baseline", "central").html(`2<tspan font-style="italic">γ</tspan> only`);
}
</script></body></html>
